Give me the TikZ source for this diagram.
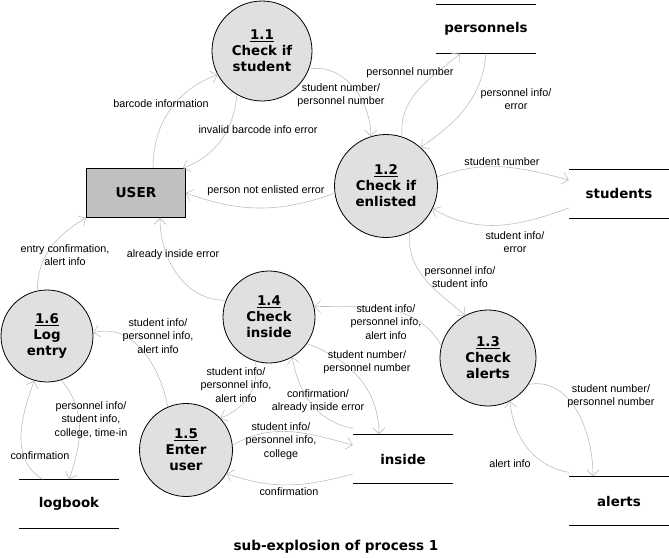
\documentclass[tikz,border=0pt]{standalone}
\usepackage{fontspec}
\setmainfont{Liberation Sans}
\newfontfamily\verdana{DejaVu Sans}
\usetikzlibrary{arrows.meta}
\definecolor{procgray}{RGB}{224,224,224}
\definecolor{usergray}{RGB}{192,192,192}
\definecolor{flowgray}{RGB}{190,190,190}

\begin{document}
\begin{tikzpicture}[x=1pt,y=1pt,
  process/.style={circle,draw,line width=0.8pt,fill=procgray,inner sep=0pt,align=center,
    font=\verdana\bfseries\fontsize{13.4}{16}\selectfont},
  store/.style={minimum width=100pt,minimum height=49pt,inner sep=0pt,
    font=\verdana\bfseries\fontsize{13.4}{16}\selectfont},
  flow/.style={draw=flowgray,line width=0.6pt,-{Straight Barb[length=6pt,width=12pt]}},
  lbl/.style={align=center,inner sep=0pt,font=\fontsize{10.8}{13.5}\selectfont}]
  \useasboundingbox (0,0) rectangle (669,-557);

  \node[process,minimum size=100pt] (p11) at (262,-51) {\underline{1.1}\\Check if\\student};
  \node[process,minimum size=103pt] (p12) at (386,-186) {\underline{1.2}\\Check if\\enlisted};
  \node[process,minimum size=96pt] (p13) at (488,-358) {\underline{1.3}\\Check\\alerts};
  \node[process,minimum size=92pt] (p14) at (269,-317) {\underline{1.4}\\Check\\inside};
  \node[process,minimum size=93pt] (p15) at (186,-450) {\underline{1.5}\\Enter\\user};
  \node[process,minimum size=92pt] (p16) at (47,-336) {\underline{1.6}\\Log\\entry};

  \node[draw,line width=0.8pt,fill=usergray,minimum width=99pt,minimum height=49pt,
    font=\verdana\bfseries\fontsize{13.6}{16}\selectfont] (user) at (136,-193) {USER};

  \node[store] (pers) at (486,-29) {personnels};
  \node[store] (stud) at (619,-194) {students};
  \node[store] (ins) at (403,-459) {inside};
  \node[store] (alrt) at (619,-501) {alerts};
  \node[store] (log) at (69,-504) {logbook};
  \foreach \s in {pers,stud,ins,alrt,log}
    \draw[line width=0.8pt] (\s.north west) -- (\s.north east)
      (\s.south west) -- (\s.south east);

  \draw[flow] ([xshift=17pt]user.north) to[out=90,in=200] (p11.208);
  \draw[flow] (p11.240) to[out=-95,in=20] ([xshift=-3pt]user.north east);
  \draw[flow] (p11.-21) to[out=10,in=90] (p12.107);
  \draw[flow] (p12.72) to[out=95,in=220] ([xshift=-26pt]pers.south);
  \draw[flow] (pers.south) to[out=-95,in=35] (p12.48);
  \draw[flow] (p12.10) to[out=20,in=165] ([yshift=14pt]stud.west);
  \draw[flow] ([yshift=-14pt]stud.west) to[out=200,in=-30] (p12.-26);
  \draw[flow] (p12.188) to[out=200,in=-20] (user.east);
  \draw[flow] (p12.-63) to[out=-95,in=140] (p13.118);
  \draw[flow] (p13.165) to[out=120,in=0] (p14.13);
  \draw[flow] (p14.-35) to[out=-20,in=90] ([xshift=-24pt]ins.north);
  \draw[flow] ([yshift=6pt]ins.north west) to[out=170,in=-80] (p14.-60);
  \draw[flow] (p14.159) to[out=180,in=-90] ([xshift=24pt]user.south);
  \draw[flow] (p14.253) to[out=-80,in=20] (p15.43);
  \draw[flow] (p15.113) to[out=100,in=15] (p16.4);
  \draw[flow] (p15.6) to[out=30,in=165] ([yshift=14pt]ins.west);
  \draw[flow] ([yshift=-15pt]ins.west) to[out=195,in=-20] (p15.-30);
  \draw[flow] (p16.102) to[out=90,in=210] (user.south west);
  \draw[flow] (p16.-72) to[out=-50,in=70] (log.north);
  \draw[flow] ([xshift=-26pt]log.north) to[out=150,in=250] (p16.254);
  \draw[flow] (p13.-33) to[out=10,in=90] ([xshift=-26pt]alrt.north);
  \draw[flow] ([yshift=4pt]alrt.north west) to[out=170,in=-85] (p13.-63);

  \node[lbl] (l1) at (161,-104) {barcode information};
  \node[lbl] (l2) at (258,-130) {invalid barcode info error};
  \node[lbl] (l3) at (341,-95) {student number/\\personnel number};
  \node[lbl] (l4) at (410,-73) {personnel number};
  \node[lbl] (l5) at (516,-99) {personnel info/\\error};
  \node[lbl] (l6) at (502,-162) {student number};
  \node[lbl] (l7) at (515,-242) {student info/\\error};
  \node[lbl] (l8) at (266,-191) {person not enlisted error};
  \node[lbl] (l9) at (460,-277) {personnel info/\\student info};
  \node[lbl] (l10) at (386,-322) {student info/\\personnel info,\\alert info};
  \node[lbl] (l11) at (367,-362) {student number/\\personnel number};
  \node[lbl] (l12) at (318,-401) {confirmation/\\already inside error};
  \node[lbl] (l13) at (173,-255) {already inside error};
  \node[lbl] (l14) at (236,-385) {student info/\\personnel info,\\alert info};
  \node[lbl] (l15) at (158,-336) {student info/\\personnel info,\\alert info};
  \node[lbl] (l16) at (281,-441) {student info/\\personnel info,\\college};
  \node[lbl] (l17) at (289,-492) {confirmation};
  \node[lbl] (l18) at (65,-255) {entry confirmation,\\alert info};
  \node[lbl] (l19) at (91,-420) {personnel info/\\student info,\\college, time-in};
  \node[lbl] (l20) at (40,-456) {confirmation};
  \node[lbl] (l21) at (611,-396) {student number/\\personnel number};
  \node[lbl] (l22) at (510,-464) {alert info};

  \node[font=\verdana\bfseries\fontsize{13.6}{16}\selectfont] (caption) at (336,-547) {sub-explosion of process 1};
\end{tikzpicture}
\end{document}
